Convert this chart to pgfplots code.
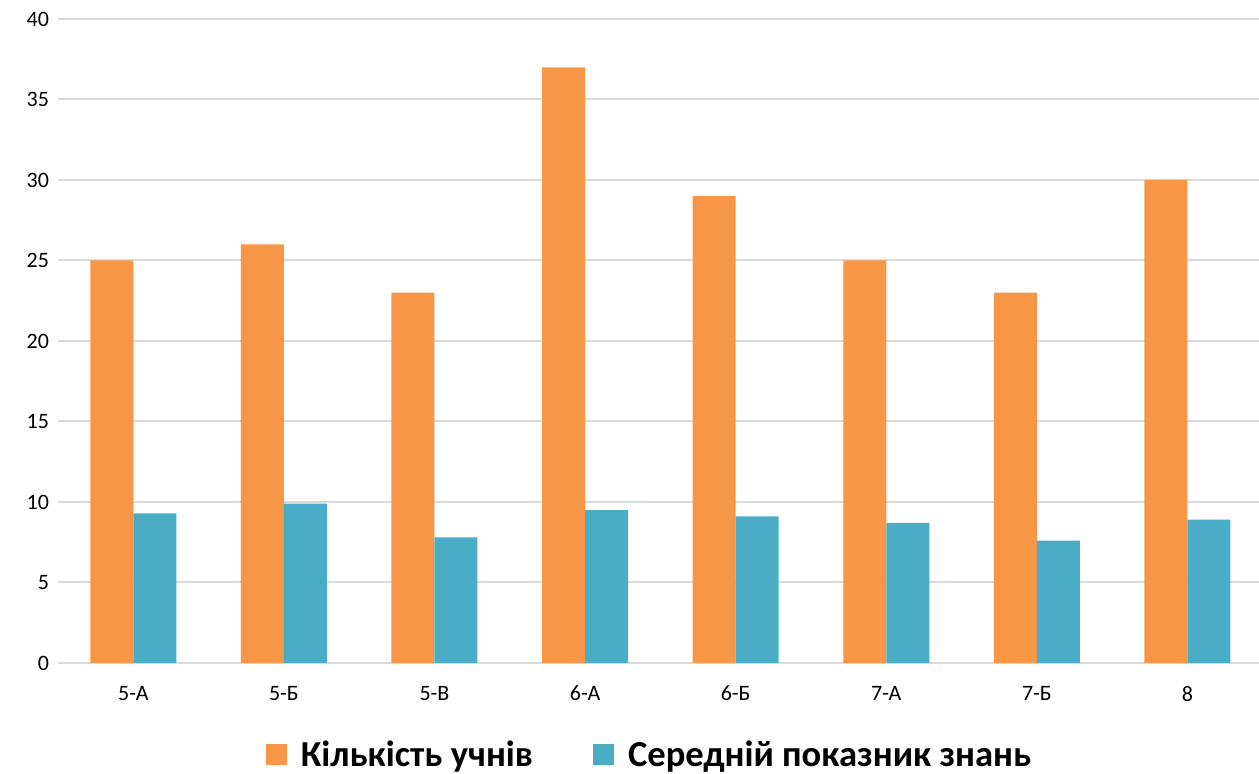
\documentclass[border=0pt]{standalone}
\usepackage{fontspec}
\setmainfont{Carlito}
\usepackage{pgfplots}
\pgfplotsset{compat=1.18}
\definecolor{orangeb}{HTML}{F79646}
\definecolor{tealb}{HTML}{4BACC6}
\definecolor{gridc}{HTML}{D9D9D9}
\begin{document}
\begin{tikzpicture}
\begin{axis}[
  at={(0,0)}, anchor=south west,
  scale only axis, width=600.5pt, height=322pt,
  xmin=-0.5, xmax=7.475, ymin=0, ymax=40,
  ybar=0pt, bar width=21.5pt,
  xtick=data, xticklabels={5-А,5-Б,5-В,6-А,6-Б,7-А,7-Б,8},
  ytick={0,5,...,40},
  ymajorgrids, grid style={gridc, line width=1pt},
  axis line style={draw=none},
  major tick length=0pt,
  tick label style={font=\fontsize{11}{13}\selectfont, text=black},
  /pgf/number format/assume math mode=true,
  xticklabel style={yshift=-8pt},
  yticklabel style={xshift=-1pt},
  legend image code/.code={\fill[#1] (0pt,-5.25pt) rectangle (10.5pt,5.25pt);},
  legend style={at={(rel axis cs:0.5,0)}, anchor=center, xshift=-4pt, yshift=-46pt,
    draw=none, fill=none, legend columns=2,
    font=\bfseries\fontsize{18.3}{21}\selectfont,
    /tikz/every odd column/.append style={column sep=5pt},
    /tikz/every even column/.append style={column sep=28pt}},
]
\addplot[fill=orangeb, draw=none] coordinates {(0,25) (1,26) (2,23) (3,37) (4,29) (5,25) (6,23) (7,30)};
\addplot[fill=tealb, draw=none] coordinates {(0,9.3) (1,9.9) (2,7.8) (3,9.5) (4,9.1) (5,8.7) (6,7.6) (7,8.9)};
\legend{Кількість учнів, Середній показник знань}
\end{axis}
\pgfresetboundingbox
\useasboundingbox (-29pt,-55.5pt) rectangle (600.5pt,331.5pt);
\end{tikzpicture}
\end{document}
